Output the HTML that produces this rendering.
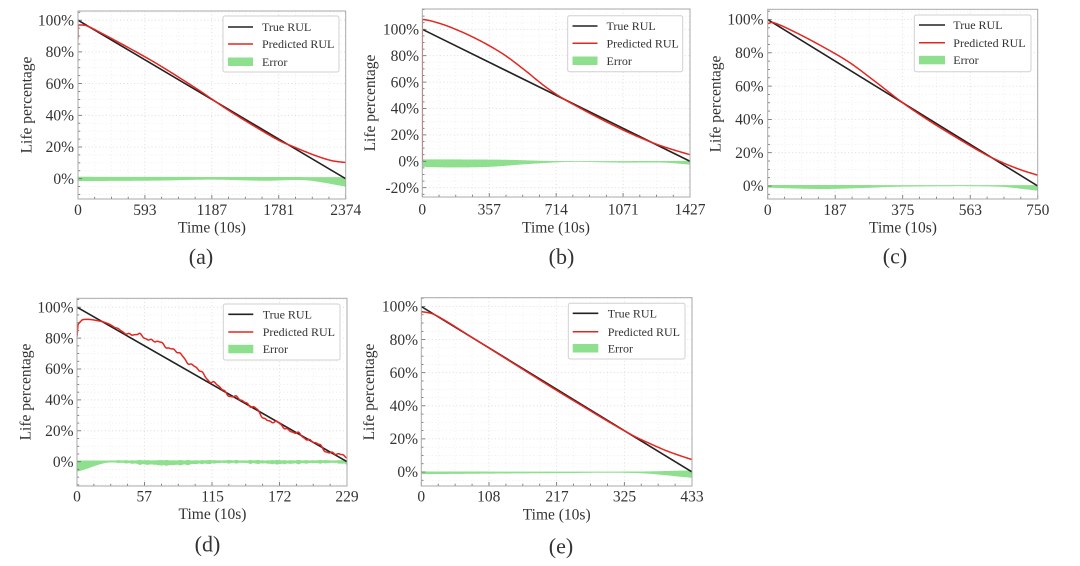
<!DOCTYPE html>
<html><head><meta charset="utf-8">
<style>
html,body{margin:0;padding:0;background:#fff;}
svg{display:block;}
text{font-family:"Liberation Serif","DejaVu Serif",serif;fill:#333;}
.tk{font-size:15.5px;}
.lb{font-size:15.5px;}
.lg{font-size:12px;}
.cap{font-size:22px;}
</style></head>
<body>
<svg id="s" width="1080" height="566" viewBox="0 0 1080 566" xmlns="http://www.w3.org/2000/svg">
<defs id="defs"></defs>
<rect x="0" y="0" width="1080" height="566" fill="#fff"/>
<g id="plots"></g>

<!-- Panel A -->
<g>
<text class="tk" x="74" y="184" text-anchor="end">0%</text>
<text class="tk" x="74" y="152.2" text-anchor="end">20%</text>
<text class="tk" x="74" y="120.5" text-anchor="end">40%</text>
<text class="tk" x="74" y="88.8" text-anchor="end">60%</text>
<text class="tk" x="74" y="57.2" text-anchor="end">80%</text>
<text class="tk" x="74" y="25.4" text-anchor="end">100%</text>
<text class="tk" x="78" y="215" text-anchor="middle">0</text>
<text class="tk" x="144.9" y="215" text-anchor="middle">593</text>
<text class="tk" x="211.9" y="215" text-anchor="middle">1187</text>
<text class="tk" x="278.8" y="215" text-anchor="middle">1781</text>
<text class="tk" x="345.7" y="215" text-anchor="middle">2374</text>
<text class="lb" x="212" y="232.5" text-anchor="middle">Time (10s)</text>
<text class="lb" transform="translate(31.5,105) rotate(-90)" text-anchor="middle">Life percentage</text>
<text class="cap" x="201" y="264" text-anchor="middle">(a)</text>
<rect x="223" y="16" width="116" height="56" rx="2" fill="#fff" stroke="#d0d0d0" stroke-width="1"/>
<line x1="228" y1="27" x2="253" y2="27" stroke="#222" stroke-width="1.6"/>
<line x1="228" y1="44" x2="253" y2="44" stroke="#e5261f" stroke-width="1.5"/>
<rect x="228" y="57.5" width="25" height="8.5" fill="#8ee08e"/>
<text class="lg" x="262" y="31.2">True RUL</text>
<text class="lg" x="262" y="48.2">Predicted RUL</text>
<text class="lg" x="262" y="66">Error</text>
</g>

<!-- Panel B -->
<g>
<text class="tk" x="419" y="192.9" text-anchor="end">-20%</text>
<text class="tk" x="419" y="166.5" text-anchor="end">0%</text>
<text class="tk" x="419" y="140.1" text-anchor="end">20%</text>
<text class="tk" x="419" y="113.7" text-anchor="end">40%</text>
<text class="tk" x="419" y="87.3" text-anchor="end">60%</text>
<text class="tk" x="419" y="60.9" text-anchor="end">80%</text>
<text class="tk" x="419" y="34.5" text-anchor="end">100%</text>
<text class="tk" x="422.3" y="214.5" text-anchor="middle">0</text>
<text class="tk" x="489.3" y="214.5" text-anchor="middle">357</text>
<text class="tk" x="556.2" y="214.5" text-anchor="middle">714</text>
<text class="tk" x="623.2" y="214.5" text-anchor="middle">1071</text>
<text class="tk" x="690" y="214.5" text-anchor="middle">1427</text>
<text class="lb" x="556" y="232.5" text-anchor="middle">Time (10s)</text>
<text class="lb" transform="translate(375,103) rotate(-90)" text-anchor="middle">Life percentage</text>
<text class="cap" x="561.5" y="264" text-anchor="middle">(b)</text>
<rect x="567.7" y="15.7" width="115" height="56" rx="2" fill="#fff" stroke="#d0d0d0" stroke-width="1"/>
<line x1="572.5" y1="26" x2="597.5" y2="26" stroke="#222" stroke-width="1.6"/>
<line x1="572.5" y1="43.3" x2="597.5" y2="43.3" stroke="#e5261f" stroke-width="1.5"/>
<rect x="572.5" y="56.5" width="25" height="8.5" fill="#8ee08e"/>
<text class="lg" x="606.5" y="30.2">True RUL</text>
<text class="lg" x="606.5" y="47.5">Predicted RUL</text>
<text class="lg" x="606.5" y="64.9">Error</text>
</g>

<!-- Panel C -->
<g>
<text class="tk" x="763.5" y="191.2" text-anchor="end">0%</text>
<text class="tk" x="763.5" y="157.9" text-anchor="end">20%</text>
<text class="tk" x="763.5" y="124.6" text-anchor="end">40%</text>
<text class="tk" x="763.5" y="91.3" text-anchor="end">60%</text>
<text class="tk" x="763.5" y="58" text-anchor="end">80%</text>
<text class="tk" x="763.5" y="24.7" text-anchor="end">100%</text>
<text class="tk" x="767.7" y="215" text-anchor="middle">0</text>
<text class="tk" x="835" y="215" text-anchor="middle">187</text>
<text class="tk" x="902.7" y="215" text-anchor="middle">375</text>
<text class="tk" x="970.4" y="215" text-anchor="middle">563</text>
<text class="tk" x="1037.7" y="215" text-anchor="middle">750</text>
<text class="lb" x="903" y="232.5" text-anchor="middle">Time (10s)</text>
<text class="lb" transform="translate(720.5,104) rotate(-90)" text-anchor="middle">Life percentage</text>
<text class="cap" x="895" y="263.5" text-anchor="middle">(c)</text>
<rect x="914.3" y="15" width="116.7" height="56.7" rx="2" fill="#fff" stroke="#d0d0d0" stroke-width="1"/>
<line x1="919" y1="25" x2="945" y2="25" stroke="#222" stroke-width="1.6"/>
<line x1="919" y1="42.7" x2="945" y2="42.7" stroke="#e5261f" stroke-width="1.5"/>
<rect x="919" y="55.8" width="26" height="8.5" fill="#8ee08e"/>
<text class="lg" x="953.3" y="29.2">True RUL</text>
<text class="lg" x="953.3" y="46.9">Predicted RUL</text>
<text class="lg" x="953.3" y="64.2">Error</text>
</g>

<!-- Panel D -->
<g>
<text class="tk" x="73.5" y="466.9" text-anchor="end">0%</text>
<text class="tk" x="73.5" y="436" text-anchor="end">20%</text>
<text class="tk" x="73.5" y="405.1" text-anchor="end">40%</text>
<text class="tk" x="73.5" y="374.2" text-anchor="end">60%</text>
<text class="tk" x="73.5" y="343.3" text-anchor="end">80%</text>
<text class="tk" x="73.5" y="312.4" text-anchor="end">100%</text>
<text class="tk" x="77" y="501.5" text-anchor="middle">0</text>
<text class="tk" x="144.2" y="501.5" text-anchor="middle">57</text>
<text class="tk" x="212.6" y="501.5" text-anchor="middle">115</text>
<text class="tk" x="279.8" y="501.5" text-anchor="middle">172</text>
<text class="tk" x="347" y="501.5" text-anchor="middle">229</text>
<text class="lb" x="212.5" y="519" text-anchor="middle">Time (10s)</text>
<text class="lb" transform="translate(30.5,392) rotate(-90)" text-anchor="middle">Life percentage</text>
<text class="cap" x="207.5" y="551.5" text-anchor="middle">(d)</text>
<rect x="223.3" y="304" width="116.7" height="56" rx="2" fill="#fff" stroke="#d0d0d0" stroke-width="1"/>
<line x1="228.3" y1="314.3" x2="253.3" y2="314.3" stroke="#222" stroke-width="1.6"/>
<line x1="228.3" y1="332" x2="253.3" y2="332" stroke="#e5261f" stroke-width="1.5"/>
<rect x="228.3" y="344.8" width="25" height="8.5" fill="#8ee08e"/>
<text class="lg" x="262.7" y="318.5">True RUL</text>
<text class="lg" x="262.7" y="336.2">Predicted RUL</text>
<text class="lg" x="262.7" y="353.2">Error</text>
</g>

<!-- Panel E -->
<g>
<text class="tk" x="418" y="477.2" text-anchor="end">0%</text>
<text class="tk" x="418" y="444.1" text-anchor="end">20%</text>
<text class="tk" x="418" y="411" text-anchor="end">40%</text>
<text class="tk" x="418" y="377.9" text-anchor="end">60%</text>
<text class="tk" x="418" y="344.8" text-anchor="end">80%</text>
<text class="tk" x="418" y="311.7" text-anchor="end">100%</text>
<text class="tk" x="421.3" y="501.5" text-anchor="middle">0</text>
<text class="tk" x="488.8" y="501.5" text-anchor="middle">108</text>
<text class="tk" x="557" y="501.5" text-anchor="middle">217</text>
<text class="tk" x="624.5" y="501.5" text-anchor="middle">325</text>
<text class="tk" x="692" y="501.5" text-anchor="middle">433</text>
<text class="lb" x="556.7" y="519.5" text-anchor="middle">Time (10s)</text>
<text class="lb" transform="translate(374,392) rotate(-90)" text-anchor="middle">Life percentage</text>
<text class="cap" x="561" y="553.5" text-anchor="middle">(e)</text>
<rect x="568.3" y="303.3" width="116.7" height="55.7" rx="2" fill="#fff" stroke="#d0d0d0" stroke-width="1"/>
<line x1="572.7" y1="313.3" x2="598.3" y2="313.3" stroke="#222" stroke-width="1.6"/>
<line x1="572.7" y1="331.7" x2="598.3" y2="331.7" stroke="#e5261f" stroke-width="1.5"/>
<rect x="572.7" y="344" width="25.6" height="8.5" fill="#8ee08e"/>
<text class="lg" x="607.7" y="317.5">True RUL</text>
<text class="lg" x="607.7" y="335.9">Predicted RUL</text>
<text class="lg" x="607.7" y="352.5">Error</text>
</g>
</svg>

<script>
(function(){
const NS='http://www.w3.org/2000/svg';
const g=document.getElementById('plots');
const defs=document.getElementById('defs');
function el(tag,attrs,parent){const e=document.createElementNS(NS,tag);for(const k in attrs)e.setAttribute(k,attrs[k]);(parent||g).appendChild(e);return e;}
function herm(pts,t){
  const n=pts.length;
  if(t<=pts[0][0])return pts[0][1];
  if(t>=pts[n-1][0])return pts[n-1][1];
  let i=0;while(i<n-2&&t>pts[i+1][0])i++;
  const p0=pts[Math.max(i-1,0)],p1=pts[i],p2=pts[i+1],p3=pts[Math.min(i+2,n-1)];
  const h=p2[0]-p1[0],u=(t-p1[0])/h;
  const m1=(p2[1]-p0[1])/(p2[0]-p0[0]),m2=(p3[1]-p1[1])/(p3[0]-p1[0]);
  const u2=u*u,u3=u2*u;
  return (2*u3-3*u2+1)*p1[1]+(u3-2*u2+u)*h*m1+(-2*u3+3*u2)*p2[1]+(u3-u2)*h*m2;
}
function dnoise(t){
  if(t<0.12)return 0;
  const r=Math.min(1,(t-0.12)/0.08);
  return r*(0.75*Math.sin(t*85+1)+0.55*Math.sin(t*160+2)+0.3*Math.sin(t*300+0.5));
}
// b: diff from true
const bDiff=[[0,7.5],[0.03,9.5],[0.1,12],[0.2,13],[0.3,11.5],[0.38,7.5],[0.45,3],[0.5,0.8],[0.55,-0.3],[0.65,-1.2],[0.75,-1.3],[0.82,-0.6],[0.87,0.3],[0.93,2.2],[1,5]];
const bPred=[];for(let i=0;i<=60;i++){const t=i/60;bPred.push([t,100*(1-t)+herm(bDiff,t)]);}
const P=[
{L:78,R:345.7,T:11,B:199,y0:178.7,sy:1.585,ymin:-15,ymax:110,nx:4,
 start:[[0,88]],
 pred:[[0,97],[0.03,96.6],[0.08,92.5],[0.2,81.6],[0.3,72],[0.45,56],[0.55,44.5],[0.65,34],[0.75,24.2],[0.8,20.5],[0.85,17],[0.9,13.8],[0.95,11.3],[1,10.2]],
 up:[[0,1.2],[1,1]],lo:[[0,-1.5],[0.3,-1.2],[0.5,-0.6],[0.7,-1.3],[0.82,-0.8],[0.88,-1.5],[1,-5]]},
{L:422.3,R:690,T:9,B:197,y0:161.3,sy:1.32,ymin:-30,ymax:120,nx:4,
 start:[[0,0]],
 pred:bPred,
 up:[[0,1.5],[0.3,1.2],[0.5,0.2],[1,0.3]],lo:[[0,-4.2],[0.1,-4.6],[0.25,-4.2],[0.4,-2],[0.55,-0.5],[0.75,-1],[0.9,-1],[1,-2.5]]},
{L:767.7,R:1037.7,T:9.3,B:199,y0:186,sy:1.665,ymin:-10,ymax:110,nx:4,
 start:null,
 pred:[[0,97.5],[0.02,98.2],[0.1,92.5],[0.2,84],[0.3,74.5],[0.4,62.5],[0.5,50],[0.6,39],[0.7,29],[0.8,19.5],[0.85,15.5],[0.9,12],[0.95,9],[1,6.5]],
 up:[[0,0.6],[1,0.5]],lo:[[0,-1],[0.2,-1.8],[0.35,-1.2],[0.5,-0.4],[0.85,-0.4],[1,-2.8]]},
{L:77,R:347,T:298.3,B:486,y0:461.7,sy:1.545,ymin:-20,ymax:110,nx:4,noise:true,
 start:[[0,81]],
 pred:[[0.004,89],[0.023,92],[0.085,91],[0.122,88.8],[0.17,84],[0.233,81.5],[0.295,77.5],[0.357,72.5],[0.41,65],[0.455,58.5],[0.49,53],[0.517,49.6],[0.554,44.5],[0.604,40],[0.653,35.5],[0.69,28.5],[0.727,26],[0.777,21.5],[0.826,17],[0.875,13],[0.919,7.5],[0.95,5.5],[0.974,4],[1,4]],
 up:[[0,0.8],[1,0.8]],lo:[[0,-6.5],[0.03,-5],[0.07,-2.5],[0.11,-0.7],[0.15,-0.5],[0.25,-1.5],[0.35,-2],[0.45,-1.2],[0.55,-0.6],[0.65,-0.8],[0.75,-1.2],[0.85,-0.8],[0.95,-0.6],[1,-1.2]]},
{L:421.3,R:692,T:297.7,B:486,y0:472,sy:1.655,ymin:-10,ymax:110,nx:4,
 start:[[0,95.5]],
 pred:[[0,97],[0.05,95],[0.2,80],[0.4,59.5],[0.5,49.3],[0.6,39.4],[0.7,29.6],[0.78,22.2],[0.82,19],[0.9,13.2],[0.95,10.2],[1,7.5]],
 up:[[0,0.3],[0.8,0.3],[1,1]],lo:[[0,-1.3],[0.5,-0.7],[0.8,-0.7],[1,-3.5]]}
];
P.forEach((p,idx)=>{
  const X=t=>p.L+t*(p.R-p.L), Y=v=>p.y0-v*p.sy;
  const id='clip'+idx;
  const cp=el('clipPath',{id:id},defs);
  el('rect',{x:p.L,y:p.T,width:p.R-p.L,height:p.B-p.T},cp);
  const gg=el('g',{'clip-path':'url(#'+id+')'});
  for(let i=1;i<p.nx*4;i++){
    const x=X(i/(p.nx*4));
    el('line',{x1:x,y1:p.T,x2:x,y2:p.B,stroke:(i%4==0)?'#d6d6d6':'#ececec','stroke-width':0.8,'stroke-dasharray':'1 2.5'},gg);
  }
  for(let v=p.ymin;v<=p.ymax;v+=5){
    const y=Y(v); if(y<=p.T||y>=p.B)continue;
    el('line',{x1:p.L,y1:y,x2:p.R,y2:y,stroke:(v%20==0)?'#d6d6d6':'#ececec','stroke-width':0.8,'stroke-dasharray':'1 2.5'},gg);
  }
  const N=p.noise?700:300;
  let up=[],lo=[];
  for(let i=0;i<=N;i++){
    const t=i/N;
    let u=herm(p.up,t), l=herm(p.lo,t);
    if(p.noise){const n=dnoise(t);u+=0.25*Math.abs(n);l-=0.5*Math.abs(n);}
    up.push(X(t).toFixed(2)+','+Y(u).toFixed(2));
    lo.push(X(t).toFixed(2)+','+Y(l).toFixed(2));
  }
  el('path',{d:'M'+up.join(' L')+' L'+lo.reverse().join(' L')+' Z',fill:'#8ee08e',stroke:'none'},gg);
  el('line',{x1:X(0),y1:Y(100),x2:X(1),y2:Y(0),stroke:'#222','stroke-width':1.6},gg);
  let d='';
  if(p.start){d='M'+X(p.start[0][0]).toFixed(2)+','+Y(p.start[0][1]).toFixed(2);}
  const t0=p.pred[0][0];
  for(let i=0;i<=N;i++){
    const t=t0+(1-t0)*i/N;
    let v=herm(p.pred,t);
    if(p.noise)v+=dnoise(t);
    d+=((d==='')?'M':' L')+X(t).toFixed(2)+','+Y(v).toFixed(2);
  }
  el('path',{d:d,fill:'none',stroke:'#e5261f','stroke-width':1.5,'stroke-linejoin':'round'},gg);
  for(let i=0;i<=p.nx*4;i++){
    const x=X(i/(p.nx*4)), len=(i%4==0)?4:2.2;
    el('line',{x1:x,y1:p.B,x2:x,y2:p.B-len,stroke:'#666','stroke-width':0.8});
  }
  for(let v=p.ymin;v<=p.ymax;v+=5){
    const y=Y(v); if(y<p.T||y>p.B)continue;
    const len=(v%20==0)?4:2.2;
    el('line',{x1:p.L,y1:y,x2:p.L+len,y2:y,stroke:'#666','stroke-width':0.8});
  }
  el('rect',{x:p.L,y:p.T,width:p.R-p.L,height:p.B-p.T,fill:'none',stroke:'#a8a8a8','stroke-width':1});
});
})();
</script>
</body></html>
